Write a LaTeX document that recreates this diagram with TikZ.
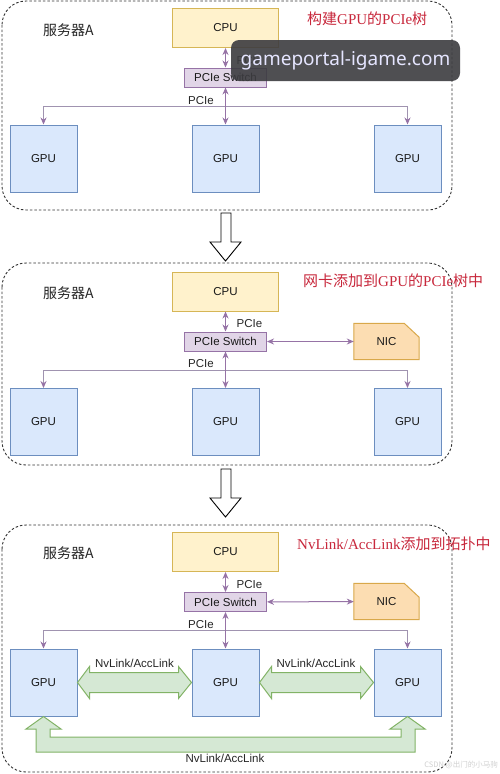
\documentclass[tikz,border=0pt]{standalone}
\usepackage{fontspec}
\setmainfont{Liberation Sans}
\newfontfamily\cjk{Noto Sans CJK SC}
\newfontfamily\tser{Liberation Serif}
\newfontfamily\wmfont{Noto Sans}
\usetikzlibrary{arrows.meta,calc}
\definecolor{cpuf}{HTML}{FFF2CC}
\definecolor{cpud}{HTML}{D6B656}
\definecolor{swf}{HTML}{E1D5E7}
\definecolor{swd}{HTML}{9673A6}
\definecolor{gpuf}{HTML}{DAE8FC}
\definecolor{gpud}{HTML}{6C8EBF}
\definecolor{nicf}{HTML}{FCDDB2}
\definecolor{nicd}{HTML}{D9A84A}
\definecolor{grf}{HTML}{D5E8D4}
\definecolor{grd}{HTML}{82B366}
\definecolor{pcid}{HTML}{9673A6}
\definecolor{pcil}{HTML}{A093B0}
\definecolor{titlered}{HTML}{C8283C}
\definecolor{wmbg}{HTML}{3C3C40}
\tikzset{
  box/.style={draw, line width=1pt, inner sep=0pt, font=\fontsize{11.5}{13}\selectfont, text=black!90},
  cpubox/.style={box, fill=cpuf, draw=cpud, minimum width=106pt, minimum height=39pt},
  swbox/.style={box, fill=swf, draw=swd, minimum width=82pt, minimum height=19pt},
  gpubox/.style={box, fill=gpuf, draw=gpud, minimum width=67pt, minimum height=67pt},
  nicbox/.style={inner sep=0pt, minimum width=65pt, minimum height=36pt, font=\fontsize{11.5}{13}\selectfont, text=black!90},
  nicshape/.style={fill=nicf, draw=nicd, line width=1pt, line join=miter},
  panel/.style={draw=black!80, dash pattern=on 2.5pt off 2pt, line width=0.9pt, rounded corners=24pt},
  pci/.style={draw=pcid, line width=1pt, {Stealth[length=7pt,width=6pt]}-{Stealth[length=7pt,width=6pt]}},
  pcione/.style={draw=pcil, line width=1pt, -{Stealth[length=7pt,width=6pt,color=pcid]}},
  lbl/.style={inner sep=0pt, font=\fontsize{11.5}{13}\selectfont, text=black!85},
  fat/.style={draw=grd, fill=grf, line width=1pt, line join=miter},
  bigarrow/.style={draw=black, fill=white, line width=0.9pt, line join=miter},
  srv/.style={inner sep=0pt, font=\cjk\fontsize{14}{16}\selectfont, text=black!85},
  ttl/.style={inner sep=0pt, anchor=west, font=\cjk\fontsize{15}{17}\selectfont, text=titlered},
}
\begin{document}
\begin{tikzpicture}[x=1pt,y=-1pt]
\useasboundingbox[fill=white] (0,0) rectangle (500,774);

% ---------------- panel 1
\draw[panel] (2,1) rectangle (452,210);
\node[srv] (s1) at (68.5,30) {服务器A};
\node[ttl] (t1) at (307,18.5) {构建{\tser GPU}的{\tser PCIe}树};
\node[cpubox] (cpu1) at (225.5,28) {CPU};
\node[swbox] (sw1) at (225.5,77.5) {PCIe Switch};
\node[gpubox] (ga1) at (43.5,158.5) {GPU};
\node[gpubox] (gb1) at (225.5,158.5) {GPU};
\node[gpubox] (gc1) at (407.5,158.5) {GPU};
\coordinate (j1) at (225.5,106);
\draw[pci] (cpu1) -- (sw1);
\draw[pcione] (j1) -| (ga1);
\draw[pcione] (j1) -| (gc1);
\draw[pci] (sw1) -- (gb1);
\node[lbl] (p1a) at (249.5,61) {PCIe};
\node[lbl] (p1b) at (201,101) {PCIe};

% arrow 1
\draw[bigarrow] (221,213) -- (231,213) -- (231,242) -- (241,242) -- (225.5,261) -- (210,242) -- (221,242) -- cycle;

% ---------------- panel 2
\draw[panel] (2,263) rectangle (452,465);
\node[srv] (s2) at (68.5,293) {服务器A};
\node[ttl] (t2) at (303,281) {网卡添加到{\tser GPU}的{\tser PCIe}树中};
\node[cpubox] (cpu2) at (225.5,291.5) {CPU};
\node[swbox] (sw2) at (225.5,341.5) {PCIe Switch};
\node[nicbox] (nic2) at (386.5,341.5) {};
\draw[nicshape] (nic2.south west) -- (nic2.north west) -- ([xshift=-15pt]nic2.north east) -- ([yshift=-14pt]nic2.north east) -- (nic2.south east) -- cycle;
\node[nicbox] (nic2t) at (nic2) {NIC};
\node[gpubox] (ga2) at (43.5,422) {GPU};
\node[gpubox] (gb2) at (225.5,422) {GPU};
\node[gpubox] (gc2) at (407.5,422) {GPU};
\coordinate (j2) at (225.5,370);
\draw[pci] (cpu2) -- (sw2);
\draw[pci] (sw2) -- (nic2);
\draw[pcione] (j2) -| (ga2);
\draw[pcione] (j2) -| (gc2);
\draw[pci] (sw2) -- (gb2);
\node[lbl] (p2a) at (249.5,324) {PCIe};
\node[lbl] (p2b) at (201,364) {PCIe};

% arrow 2
\draw[bigarrow] (221,469) -- (231,469) -- (231,498) -- (241,498) -- (225.5,517) -- (210,498) -- (221,498) -- cycle;

% ---------------- panel 3
\draw[panel] (2,525) rectangle (452,772);
\node[srv] (s3) at (68.5,553) {服务器A};
\node[ttl] (t3) at (297,544) {{\tser NvLink/AccLink}添加到拓扑中};
\node[cpubox] (cpu3) at (225.5,552) {CPU};
\node[swbox] (sw3) at (225.5,602) {PCIe Switch};
\node[nicbox] (nic3) at (386.5,601.5) {};
\draw[nicshape] (nic3.south west) -- (nic3.north west) -- ([xshift=-15pt]nic3.north east) -- ([yshift=-14pt]nic3.north east) -- (nic3.south east) -- cycle;
\node[nicbox] (nic3t) at (nic3) {NIC};
\node[gpubox] (ga3) at (43.5,682.5) {GPU};
\node[gpubox] (gb3) at (225.5,682.5) {GPU};
\node[gpubox] (gc3) at (407.5,682.5) {GPU};
\coordinate (j3) at (225.5,630);
\draw[pci] (cpu3) -- (sw3);
\draw[pci] (sw3) -- (nic3);
\draw[pcione] (j3) -| (ga3);
\draw[pcione] (j3) -| (gc3);
\draw[pci] (sw3) -- (gb3);
\node[lbl] (p3a) at (249.5,585) {PCIe};
\node[lbl] (p3b) at (201,625) {PCIe};

% NvLink fat arrows
\draw[fat] (ga3.east) -- ++(12,-16) -- ++(0,6) -- ($(gb3.west)+(-13,-10)$) -- ++(0,-6) -- (gb3.west) -- ++(-13,16) -- ++(0,-6) -- ($(ga3.east)+(12,10)$) -- ++(0,6) -- cycle;
\draw[fat] (gb3.east) -- ++(12,-16) -- ++(0,6) -- ($(gc3.west)+(-13,-10)$) -- ++(0,-6) -- (gc3.west) -- ++(-13,16) -- ++(0,-6) -- ($(gb3.east)+(12,10)$) -- ++(0,6) -- cycle;
\draw[fat] (ga3.south) -- ++(17.5,12.5) -- ++(-11,0) -- ++(0,8) -- ($(gc3.south)+(-6.5,20.5)$) -- ++(0,-8) -- ++(-11,0) -- (gc3.south) -- ++(17.5,12.5) -- ++(-10,0) -- ++(0,23) -- ($(ga3.south)+(-7.5,35.5)$) -- ++(0,-23) -- ++(-10,0) -- cycle;
\node[lbl] (n1) at (134.5,663) {NvLink/AccLink};
\node[lbl] (n2) at (316,663) {NvLink/AccLink};
\node[lbl] (n3) at (225,758) {NvLink/AccLink};

% watermarks
\node[fill=wmbg, fill opacity=0.9, text opacity=1, rounded corners=8pt, minimum width=229pt, minimum height=41pt, inner sep=0pt, text=white!90!blue, font=\wmfont\fontsize{19}{21}\selectfont] (wm) at (345.5,60.5) {gameportal-igame.com};
\node[inner sep=0pt, anchor=east, text=black!18, font=\cjk\fontsize{7.5}{8}\selectfont] (wm2) at (498,765) {CSDN @出门的小马驹};
\end{tikzpicture}
\end{document}
